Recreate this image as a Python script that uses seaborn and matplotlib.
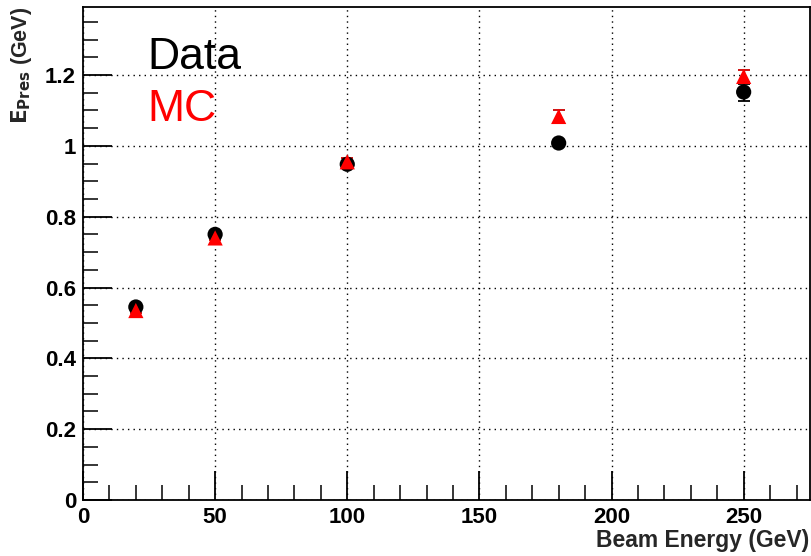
import numpy as np
import pandas as pd
import matplotlib
matplotlib.use("Agg")
import matplotlib.pyplot as plt
import seaborn as sns
from matplotlib.ticker import MultipleLocator

energy = [20, 50, 100, 180, 250]
data_vals = [0.545, 0.750, 0.948, 1.008, 1.152]
data_err = [0.008, 0.008, 0.008, 0.008, 0.024]
mc_vals = [0.535, 0.740, 0.955, 1.083, 1.196]
mc_err = [0.006, 0.006, 0.010, 0.018, 0.017]

sns.set_theme(style="white")
plt.rcParams['font.family'] = ['Liberation Sans', 'DejaVu Sans']

fig = plt.figure(figsize=(8.12, 5.56), dpi=100)
ax = fig.add_axes([0.1022, 0.1007, 0.895, 0.8867])

df = pd.DataFrame({
    "energy": energy * 2,
    "value": data_vals + mc_vals,
    "series": ["Data"] * 5 + ["MC"] * 5,
})

ax.errorbar(energy, data_vals, yerr=data_err, fmt="none", ecolor="black",
            elinewidth=1.3, capsize=4, capthick=1.3, zorder=2)
ax.errorbar(energy, mc_vals, yerr=mc_err, fmt="none", ecolor="#cc0000",
            elinewidth=1.3, capsize=4, capthick=1.3, zorder=2)
sns.scatterplot(data=df, x="energy", y="value", hue="series", style="series",
                palette={"Data": "black", "MC": "red"},
                markers={"Data": "o", "MC": "^"}, s=120, edgecolor="none",
                legend=False, ax=ax, zorder=3)

ax.set_xlim(0, 275)
ax.set_ylim(0, 1.392)
ax.xaxis.set_major_locator(MultipleLocator(50))
ax.xaxis.set_minor_locator(MultipleLocator(10))
ax.yaxis.set_major_locator(MultipleLocator(0.2))
ax.yaxis.set_minor_locator(MultipleLocator(0.05))
ax.yaxis.set_major_formatter(matplotlib.ticker.FuncFormatter(lambda v, p: f"{v:g}"))

ax.grid(True, which="major", color="black", linestyle=(0, (1, 3)), linewidth=1.0)
ax.tick_params(axis="both", which="major", direction="in", length=21, width=1.3,
               labelsize=16, pad=5, colors="black", bottom=True, left=True,
               top=False, right=False)
ax.tick_params(axis="both", which="minor", direction="in", length=11, width=1.3,
               bottom=True, left=True, top=False, right=False)
for lab in ax.get_xticklabels() + ax.get_yticklabels():
    lab.set_fontweight("bold")
for s in ax.spines.values():
    s.set_color("black")
    s.set_linewidth(1.3)

ax.set_xlabel("Beam Energy (GeV)", fontsize=16.5, fontweight="bold", loc="right", labelpad=1)
ax.set_ylabel(r"$\mathbf{E_{Pres}}$ (GeV)", fontsize=15.5, fontweight="bold", loc="top", labelpad=8)

ax.text(0.089, 0.875, "Data", transform=ax.transAxes, fontsize=32, color="black",
        va="baseline", ha="left")
ax.text(0.089, 0.768, "MC", transform=ax.transAxes, fontsize=32, color="red",
        va="baseline", ha="left")

fig.savefig("out.png", dpi=100)
